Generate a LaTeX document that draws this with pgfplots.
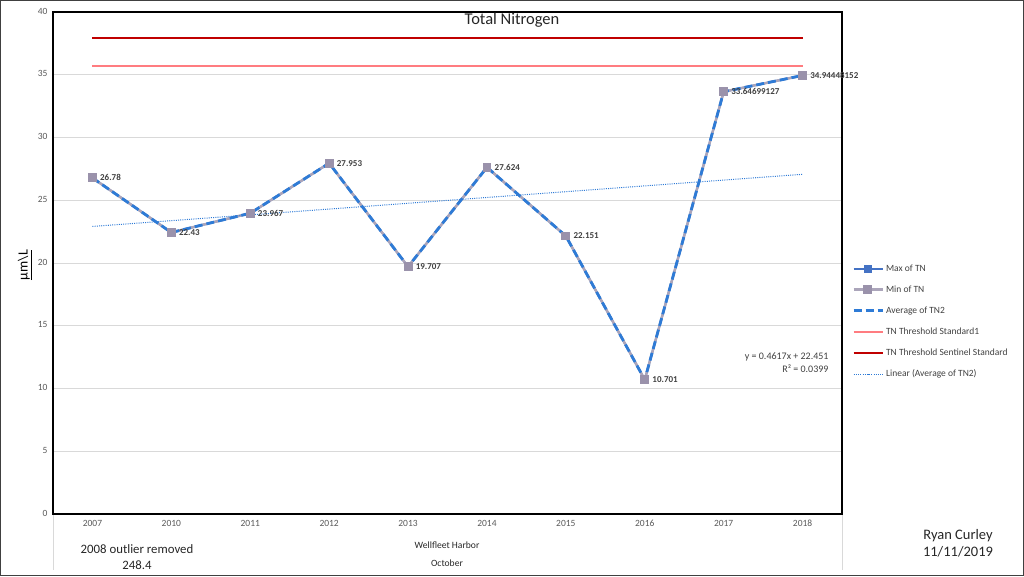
\documentclass[border=0pt]{standalone}
\usepackage{fontspec}
\setmainfont{Carlito}
\usepackage{pgfplots}
\pgfplotsset{compat=1.18}
\definecolor{avgblue}{HTML}{2E7BD6}
\definecolor{maxblue}{HTML}{4472C4}
\definecolor{mingray}{HTML}{ABA5BA}
\definecolor{minmark}{HTML}{9A92AB}
\definecolor{sentred}{HTML}{C00000}
\definecolor{stdpink}{HTML}{FF7C80}
\definecolor{gridgray}{HTML}{D9D9D9}
\definecolor{tickgray}{HTML}{595959}
\definecolor{labgray}{HTML}{404040}
\begin{document}
\begin{tikzpicture}[x=1pt,y=1pt]
\draw[draw=black!75, line width=1pt] (0.5,0.5) rectangle (1023.5,575.5);
\draw[gridgray, line width=0.6pt] (53,62) -- (53,6) (842,62) -- (842,6);
\begin{axis}[at={(92.45pt,62pt)}, anchor=origin, scale only axis,
  width=789pt, height=502pt,
  xmin=-0.5, xmax=9.5, ymin=0, ymax=40,
  ytick={0,5,...,40}, xtick={0,...,9},
  xticklabels={2007,2010,2011,2012,2013,2014,2015,2016,2017,2018},
  typeset ticklabels with strut,
  ymajorgrids, grid style={draw=gridgray, line width=0.75pt},
  axis line style={black, line width=1.4pt},
  tick style={draw=none},
  tick label style={font=\fontsize{9.5}{11}\selectfont, text=tickgray},
  /pgf/number format/assume math mode=true,
  yticklabel style={xshift=-2pt}, xticklabel style={yshift=-1pt},
  legend style={at={(1.009,0.505)}, anchor=north west, draw=none, fill=none,
    font=\fontsize{9.5}{11}\selectfont, text=labgray, row sep=9pt,
    legend cell align=left},
  legend image code/.code={\draw[mark repeat=2,mark phase=2] plot coordinates {(0pt,0pt) (14pt,0pt) (29pt,0pt)};},
  clip=false,
]
\addplot[maxblue, line width=2pt, mark=square*, mark size=3pt, mark options={solid, fill=maxblue, draw=maxblue}]
 coordinates {(0,26.78) (1,22.43) (2,23.967) (3,27.953) (4,19.707) (5,27.624) (6,22.151) (7,10.701) (8,33.64699127) (9,34.94448152)};
\addlegendentry{Max of TN}
\addplot[mingray, line width=2.5pt, mark=square*, mark size=3.2pt, mark options={solid, fill=minmark, draw=minmark}]
 coordinates {(0,26.78) (1,22.43) (2,23.967) (3,27.953) (4,19.707) (5,27.624) (6,22.151) (7,10.701) (8,33.64699127) (9,34.94448152)};
\addlegendentry{Min of TN}
\addplot[avgblue, line width=2.8pt, dash pattern=on 8pt off 4pt,
  nodes near coords, point meta=explicit symbolic,
  every node near coord/.append style={anchor=west, xshift=3pt, font=\bfseries\fontsize{9}{10}\selectfont, text=labgray}]
 coordinates {(0,26.78)[26.78] (1,22.43)[22.43] (2,23.967)[23.967] (3,27.953)[27.953] (4,19.707)[19.707] (5,27.624)[27.624] (6,22.151)[22.151] (7,10.701)[10.701] (8,33.64699127)[33.64699127] (9,34.94448152)[34.94448152]};
\addlegendentry{Average of TN2}
\addplot[stdpink, line width=2.2pt] coordinates {(0,35.7) (9,35.7)};
\addlegendentry{TN Threshold Standard1}
\addplot[sentred, line width=2.2pt] coordinates {(0,37.9) (9,37.9)};
\addlegendentry{TN Threshold Sentinel Standard}
\addplot[avgblue, line width=1pt, dash pattern=on 1pt off 1.2pt]
 coordinates {(0,22.913) (1,23.374) (2,23.836) (3,24.298) (4,24.760) (5,25.222) (6,25.683) (7,26.145) (8,26.607) (9,27.068)};
\addlegendentry{Linear (Average of TN2)}
\end{axis}
\node[font=\fontsize{16.5}{18}\selectfont, text=black!85] at (512,556) {Total Nitrogen};
\node[rotate=90, font=\fontsize{14}{16}\selectfont, text=black] at (25,311) {\underline{µm\textbackslash L}};
\node[anchor=east, font=\fontsize{10}{12}\selectfont, text=labgray] at (832,219) {y = 0.4617x + 22.451};
\node[anchor=east, font=\fontsize{10}{12}\selectfont, text=labgray] at (832,207) {R² = 0.0399};
\node[font=\fontsize{9.6}{11}\selectfont, text=black!85] at (447,31) {Wellfleet Harbor};
\node[font=\fontsize{9.6}{11}\selectfont, text=black!85] at (447,13) {October};
\node[font=\fontsize{12.8}{15}\selectfont, text=black!85] at (137,27) {2008 outlier removed};
\node[font=\fontsize{12.8}{15}\selectfont, text=black!85] at (137,11) {248.4};
\node[font=\fontsize{14.5}{17}\selectfont, text=black!85] at (958,40) {Ryan Curley};
\node[font=\fontsize{14.5}{17}\selectfont, text=black!85] at (958,24) {11/11/2019};
\pgfresetboundingbox
\path[use as bounding box] (0,0) rectangle (1024,576);
\end{tikzpicture}
\end{document}
